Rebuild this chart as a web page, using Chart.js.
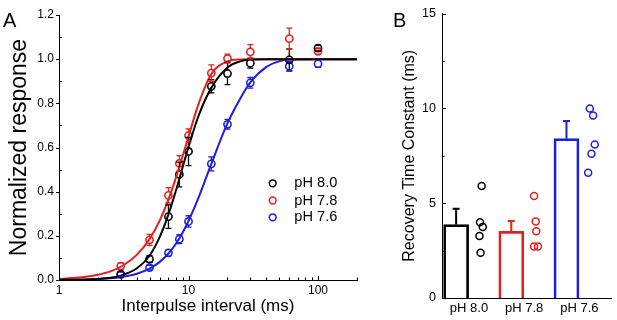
<!DOCTYPE html>
<html>
<head>
<meta charset="utf-8">
<script src="https://cdn.jsdelivr.net/npm/chart.js@4.4.1/dist/chart.umd.min.js"></script>
<style>
  html, body { margin: 0; padding: 0; background: #fff; }
  #wrap { position: relative; width: 617px; height: 320px; overflow: hidden;
          font-family: "Liberation Sans", Arial, sans-serif; }
  #chartA { position: absolute; left: 0; top: 0; }
  #chartB { position: absolute; left: 375px; top: 0; }
  .panel { position: absolute; font-size: 20px; line-height: 1; color: #000; }
</style>
</head>
<body>
<div id="wrap">
  <canvas id="chartA" width="375" height="320"></canvas>
  <canvas id="chartB" width="242" height="320"></canvas>
  <div class="panel" style="left:3px; top:10px;">A</div>
  <div class="panel" style="left:393px; top:10px;">B</div>
</div>
<script>
// ---- panel A: recovery vs interpulse interval ----
const intervals = [3, 5, 7, 8.5, 10, 15, 20, 30, 60, 100];
const resp80 = [0.026, 0.095, 0.287, 0.478, 0.582, 0.877, 0.935, 0.982, 0.997, 1.05];
const err80  = [0.012, 0.015, 0.053, 0.056, 0.064, 0.03, 0.05, 0.023, 0.05, 0.013];
const resp78 = [0.063, 0.182, 0.383, 0.528, 0.654, 0.937, 1.003, 1.033, 1.093, 1.035];
const err78  = [0.015, 0.025, 0.035, 0.035, 0.03, 0.037, 0.02, 0.033, 0.048, 0.012];
const resp76 = [0.026, 0.056, 0.123, 0.185, 0.265, 0.526, 0.705, 0.893, 0.968, 0.979];
const err76  = [0.01, 0.01, 0.015, 0.02, 0.026, 0.032, 0.022, 0.024, 0.022, 0.016];

// fitted curves
const fitX  = [1, 1.5, 2, 2.5, 3, 4, 5, 6, 7, 8, 9, 10, 12, 15, 20, 25, 30, 40, 50, 60, 100, 200];
const fit80 = [0.0004, 0.0016, 0.005, 0.01, 0.02, 0.053, 0.11, 0.195, 0.297, 0.405, 0.51, 0.603, 0.746, 0.87, 0.962, 0.99, 0.998, 1, 1, 1, 1, 1];
const fit78 = [0.005, 0.012, 0.024, 0.039, 0.06, 0.115, 0.185, 0.27, 0.365, 0.463, 0.56, 0.65, 0.8, 0.933, 0.99, 0.999, 1, 1, 1, 1, 1, 1];
const fit76 = [0.0006, 0.002, 0.0043, 0.0075, 0.013, 0.028, 0.051, 0.082, 0.12, 0.164, 0.214, 0.267, 0.375, 0.526, 0.71, 0.82, 0.895, 0.965, 0.99, 0.998, 1, 1];

const xTickValues = [1, 2, 3, 4, 5, 6, 7, 8, 9, 10, 20, 30, 40, 50, 60, 70, 80, 90, 100, 200];
const xTickLabels = [1, 10, 100];

// ---- panel B: recovery time constants ----
const categories = ['pH 8.0', 'pH 7.8', 'pH 7.6'];
const tauMean = [3.87, 3.51, 8.40];
const tauSem  = [0.84, 0.55, 0.93];
const tauCells80 = [5.9, 4.0, 3.75, 3.27, 2.39];
const tauCells78 = [5.38, 4.03, 3.52, 2.71, 2.71];
const tauCells76 = [9.99, 9.62, 8.09, 7.61, 6.61];

const BLACK = '#000000';
const RED = '#e4201f';
const BLUE = '#1f1fdc';
const phColors = [BLACK, RED, BLUE];

// horizontal placement of bars / scattered cells within a category
const barShift = -0.233;
const dotJitter = [[0.23, 0.20, 0.25, 0.19, 0.21], [0.18, 0.21, 0.22, 0.18, 0.25], [0.19, 0.25, 0.28, 0.22, 0.16]];

Chart.defaults.font.family = "'Liberation Sans', Arial, sans-serif";
Chart.defaults.color = '#000';
Chart.defaults.animation = false;
Chart.defaults.plugins.legend.display = false;
Chart.defaults.plugins.tooltip.enabled = false;

function pts(xs, ys) {
    return xs.map((x, i) => ({ x: x, y: ys[i] }));
}

function curve(ys, color) {
    return {
        type: 'line',
        data: pts(fitX, ys),
        borderColor: color,
        borderWidth: 2,
        pointRadius: 0,
        fill: false,
        cubicInterpolationMode: 'monotone'
    };
}

function markers(ys, errs, color) {
    return {
        type: 'scatter',
        data: pts(intervals, ys),
        errors: errs,
        borderColor: color,
        backgroundColor: 'rgba(0,0,0,0)',
        pointRadius: 3.6,
        pointBorderWidth: 1.6
    };
}

// error bars for the scatter points (drawn outside the hollow circle)
const errorBarsA = {
    id: 'errorBarsA',
    afterDatasetsDraw(chart) {
        const ctx = chart.ctx;
        const ys = chart.scales.y;
        chart.data.datasets.forEach((ds, i) => {
            if (!ds.errors) return;
            const meta = chart.getDatasetMeta(i);
            ctx.save();
            ctx.strokeStyle = ds.borderColor;
            ctx.lineWidth = 1.3;
            meta.data.forEach((p, j) => {
                const v = ds.data[j].y, e = ds.errors[j];
                const top = ys.getPixelForValue(v + e);
                const bot = ys.getPixelForValue(v - e);
                ctx.beginPath();
                if (p.y - top > 3.6) { ctx.moveTo(p.x, top); ctx.lineTo(p.x, p.y - 3.6); }
                if (bot - p.y > 3.6) { ctx.moveTo(p.x, p.y + 3.6); ctx.lineTo(p.x, bot); }
                ctx.moveTo(p.x - 3, top); ctx.lineTo(p.x + 3, top);
                ctx.moveTo(p.x - 3, bot); ctx.lineTo(p.x + 3, bot);
                ctx.stroke();
            });
            ctx.restore();
        });
    }
};

// Origin-style tick marks: y major outward, minor inward; x ticks inward
const ticksA = {
    id: 'ticksA',
    afterDraw(chart) {
        const ctx = chart.ctx;
        const { x, y } = chart.scales;
        const area = chart.chartArea;
        ctx.save();
        ctx.strokeStyle = '#000';
        ctx.lineWidth = 1;
        ctx.beginPath();
        const yt = y.ticks.map(t => t.value);
        yt.forEach((v, i) => {
            const py = Math.round(y.getPixelForValue(v)) + 0.5;
            ctx.moveTo(area.left - 3, py); ctx.lineTo(area.left, py);
            if (i < yt.length - 1) {
                const my = Math.round(y.getPixelForValue((v + yt[i + 1]) / 2)) + 0.5;
                ctx.moveTo(area.left, my); ctx.lineTo(area.left + 3, my);
            }
        });
        x.ticks.forEach(t => {
            const px = Math.round(x.getPixelForValue(t.value)) + 0.5;
            const len = xTickLabels.includes(t.value) ? 4 : 2.5;
            ctx.moveTo(px, area.bottom); ctx.lineTo(px, area.bottom - len);
        });
        ctx.stroke();
        ctx.restore();
    }
};

// legend inside the plot
const legendA = {
    id: 'legendA',
    afterDraw(chart) {
        const ctx = chart.ctx;
        const rows = [183.3, 200.5, 217.3];
        ctx.save();
        ctx.font = "14.6px 'Liberation Sans', Arial, sans-serif";
        ctx.textBaseline = 'middle';
        ctx.fillStyle = '#000';
        categories.forEach((label, i) => {
            ctx.beginPath();
            ctx.strokeStyle = phColors[i];
            ctx.lineWidth = 1.5;
            ctx.arc(272.7, rows[i], 3.4, 0, Math.PI * 2);
            ctx.stroke();
            ctx.fillText(label, 294.3, rows[i]);
        });
        ctx.restore();
    }
};

new Chart(document.getElementById('chartA'), {
    type: 'scatter',
    data: {
        datasets: [
            curve(fit80, BLACK),
            curve(fit78, RED),
            curve(fit76, BLUE),
            markers(resp80, err80, BLACK),
            markers(resp78, err78, RED),
            markers(resp76, err76, BLUE)
        ]
    },
    options: {
        responsive: false,
        layout: { padding: { top: 15, right: 18, left: 0, bottom: 0 } },
        scales: {
            x: {
                type: 'logarithmic',
                min: 1,
                max: 200,
                grid: { display: false, drawTicks: false },
                border: { display: true, color: '#000', width: 1 },
                afterBuildTicks: s => { s.ticks = xTickValues.map(v => ({ value: v })); },
                ticks: {
                    autoSkip: false,
                    maxRotation: 0,
                    padding: 3,
                    color: '#000',
                    font: { size: 12 },
                    callback: v => (xTickLabels.includes(v) ? String(v) : '')
                },
                title: {
                    display: true,
                    text: 'Interpulse interval (ms)',
                    font: { size: 17 },
                    padding: { top: 0, bottom: 3 }
                },
                afterFit: s => { s.height = 40; }
            },
            y: {
                min: 0,
                max: 1.2,
                grid: { display: false, drawTicks: false },
                border: { display: true, color: '#000', width: 1 },
                ticks: {
                    stepSize: 0.2,
                    padding: 5,
                    color: '#000',
                    font: { size: 12 },
                    callback: v => v.toFixed(1)
                },
                title: {
                    display: true,
                    text: 'Normalized response',
                    font: { size: 23 },
                    padding: { top: 6, bottom: 0 }
                },
                afterFit: s => { s.width = 59; }
            }
        }
    },
    plugins: [errorBarsA, ticksA, legendA]
});

// ---- panel B ----
const cellPoints = [];
const cellColors = [];
[tauCells80, tauCells78, tauCells76].forEach((cells, i) => {
    cells.forEach((v, j) => {
        cellPoints.push({ x: i + dotJitter[i][j], y: v });
        cellColors.push(phColors[i]);
    });
});

const errorBarsB = {
    id: 'errorBarsB',
    afterDatasetsDraw(chart) {
        const ctx = chart.ctx;
        const ys = chart.scales.y;
        const meta = chart.getDatasetMeta(0);
        ctx.save();
        ctx.lineWidth = 2;
        meta.data.forEach((bar, i) => {
            const top = ys.getPixelForValue(tauMean[i]);
            const tip = ys.getPixelForValue(tauMean[i] + tauSem[i]);
            ctx.strokeStyle = phColors[i];
            ctx.beginPath();
            ctx.moveTo(bar.x, top); ctx.lineTo(bar.x, tip);
            ctx.moveTo(bar.x - 3.5, tip); ctx.lineTo(bar.x + 3.5, tip);
            ctx.stroke();
        });
        ctx.restore();
    }
};

const ticksB = {
    id: 'ticksB',
    afterDraw(chart) {
        const ctx = chart.ctx;
        const y = chart.scales.y;
        const area = chart.chartArea;
        ctx.save();
        ctx.strokeStyle = '#000';
        ctx.lineWidth = 1;
        ctx.beginPath();
        const yt = y.ticks.map(t => t.value);
        yt.forEach((v, i) => {
            const py = Math.round(y.getPixelForValue(v)) + 0.5;
            ctx.moveTo(area.left, py); ctx.lineTo(area.left + 4, py);
            if (i < yt.length - 1) {
                const my = Math.round(y.getPixelForValue((v + yt[i + 1]) / 2)) + 0.5;
                ctx.moveTo(area.left, my); ctx.lineTo(area.left + 2.5, my);
            }
        });
        ctx.stroke();
        ctx.restore();
    }
};

new Chart(document.getElementById('chartB'), {
    type: 'bar',
    data: {
        datasets: [
            {
                type: 'bar',
                data: tauMean.map((v, i) => ({ x: i + barShift, y: v })),
                borderColor: phColors,
                backgroundColor: 'rgba(255,255,255,0)',
                borderWidth: 2,
                barThickness: 25
            },
            {
                type: 'scatter',
                data: cellPoints,
                borderColor: cellColors,
                backgroundColor: 'rgba(0,0,0,0)',
                pointRadius: 3.5,
                pointBorderWidth: 1.5
            }
        ]
    },
    options: {
        responsive: false,
        layout: { padding: { top: 13, right: 1, left: 0, bottom: 0 } },
        scales: {
            x: {
                type: 'linear',
                offset: false,
                min: -0.489,
                max: 2.583,
                grid: { display: false, drawTicks: false, offset: false },
                border: { display: true, color: '#000', width: 1 },
                afterBuildTicks: s => { s.ticks = categories.map((c, i) => ({ value: i })); },
                ticks: {
                    autoSkip: false,
                    maxRotation: 0,
                    padding: 3,
                    color: '#000',
                    font: { size: 13 },
                    callback: (v, i) => categories[i]
                },
                afterFit: s => { s.height = 22; }
            },
            y: {
                min: 0,
                max: 15,
                grid: { display: false, drawTicks: false },
                border: { display: true, color: '#000', width: 1 },
                ticks: {
                    stepSize: 5,
                    padding: 6,
                    color: '#000',
                    font: { size: 12.5 }
                },
                title: {
                    display: true,
                    text: 'Recovery Time Constant (ms)',
                    font: { size: 16 },
                    padding: { top: 25, bottom: 0 }
                },
                afterFit: s => { s.width = 67; }
            }
        }
    },
    plugins: [errorBarsB, ticksB]
});
</script>
</body>
</html>
